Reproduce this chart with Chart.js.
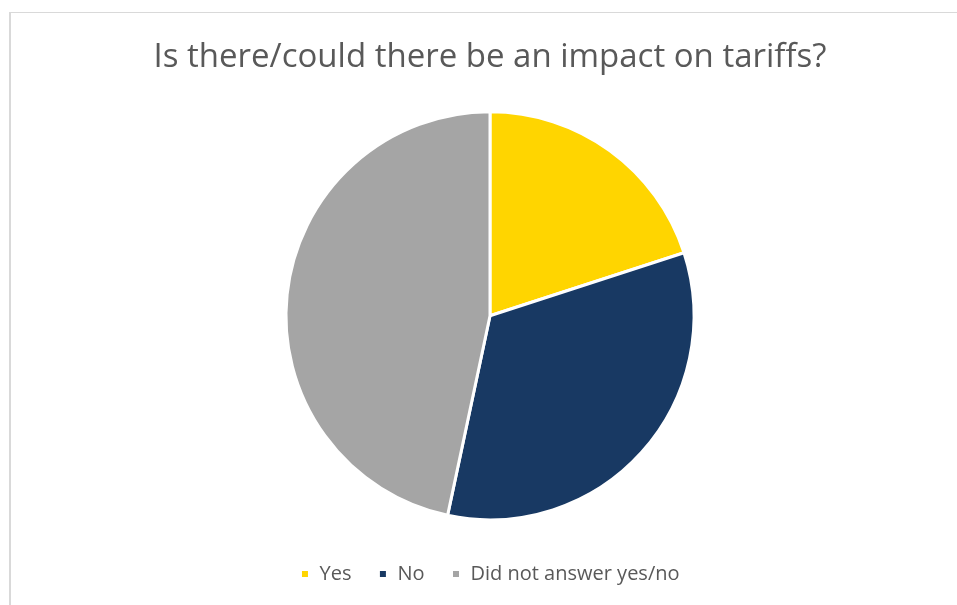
<!DOCTYPE html>
<html>
<head>
<meta charset="utf-8">
<script src="https://cdn.jsdelivr.net/npm/chart.js@4"></script>
<style>
  html, body { margin: 0; padding: 0; background: #fff; overflow: hidden; }
  #wrap { position: relative; width: 957px; height: 605px; }
  #frame {
    position: absolute; left: 9px; top: 12px; width: 960px; height: 610px;
    border-left: 2px solid #d9d9d9; border-top: 1px solid #d9d9d9;
  }
  canvas { position: absolute; left: 0; top: 0; }
</style>
</head>
<body>
<div id="wrap">
  <div id="frame"></div>
  <canvas id="chart" width="957" height="605"></canvas>
</div>
<script>
// --- data ---
const titleText = 'Is there/could there be an impact on tariffs?';
const labels = ['Yes', 'No', 'Did not answer yes/no'];
const values = [3, 5, 7];
const colors = ['#ffd500', '#183963', '#a5a5a5'];

const fontFamily = '"Open Sans", "Noto Sans", sans-serif';

const ctx = document.getElementById('chart').getContext('2d');
new Chart(ctx, {
  type: 'pie',
  data: {
    labels: labels,
    datasets: [{
      data: values,
      backgroundColor: colors,
      borderColor: '#ffffff',
      borderWidth: 3,
      radius: 204,
    }]
  },
  options: {
    responsive: false,
    animation: false,
    layout: { padding: { left: 23, right: 0, top: 0, bottom: 11 } },
    plugins: {
      title: {
        display: true,
        text: titleText,
        color: '#595959',
        font: { family: fontFamily, size: 33, weight: 'normal' },
        padding: { top: 38, bottom: 17 }
      },
      legend: {
        position: 'bottom',
        labels: {
          color: '#595959',
          font: { family: fontFamily, size: 20 },
          boxWidth: 9,
          boxHeight: 9,
          padding: 27,
        }
      },
      tooltip: { enabled: false }
    }
  }
});
</script>
</body>
</html>
